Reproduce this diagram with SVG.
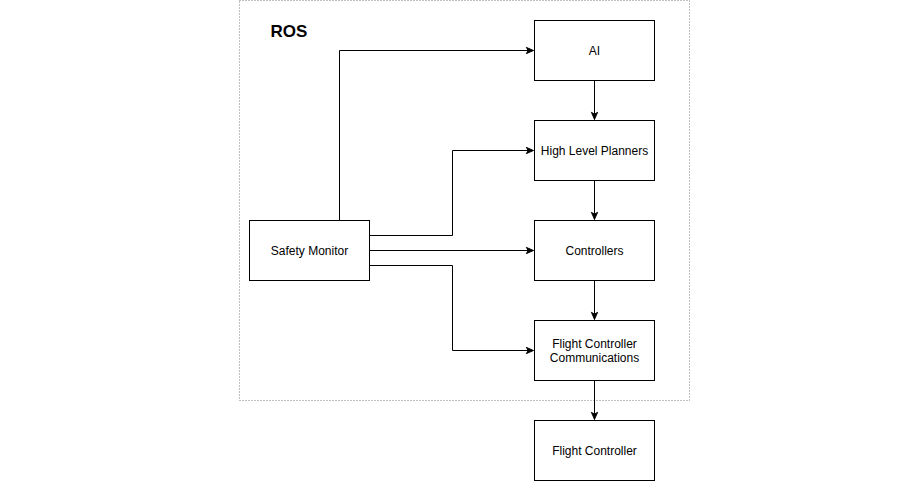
<svg xmlns="http://www.w3.org/2000/svg" width="911" height="481" viewBox="0 0 911 481">
<style>
.box{fill:#fff;stroke:#000;stroke-width:1}
.lbl{font-family:"Liberation Sans",Arial,sans-serif;font-size:12px;fill:#000;text-anchor:middle}
.edge{fill:none;stroke:#000;stroke-width:1}
</style>
<defs>
<marker id="arr" viewBox="0 0 10 10" refX="9" refY="5" markerWidth="9" markerHeight="9" markerUnits="userSpaceOnUse" orient="auto">
<path d="M1,1.5 L9,5 L1,8.5 L3,5 Z" fill="#000" stroke="#000" stroke-width="1"/>
</marker>
</defs>
<rect width="911" height="481" fill="#fff"/>
<g id="ros">
<rect x="239.5" y="0.5" width="450" height="400" fill="none" stroke="#808080" stroke-dasharray="1 2"/>
<text x="289" y="37" font-family="'Liberation Sans',Arial,sans-serif" font-size="17" font-weight="bold" text-anchor="middle">ROS</text>
</g>
<g id="connectors">
<path class="edge" d="M339.5,220.5 V50.5 H533.5" marker-end="url(#arr)"/>
<path class="edge" d="M369.5,235.5 H452.5 V150.5 H533.5" marker-end="url(#arr)"/>
<path class="edge" d="M369.5,250.5 H533.5" marker-end="url(#arr)"/>
<path class="edge" d="M369.5,265.5 H452.5 V350.5 H533.5" marker-end="url(#arr)"/>
<path class="edge" d="M594.5,80.5 V119.5" marker-end="url(#arr)"/>
<path class="edge" d="M594.5,180.5 V219.5" marker-end="url(#arr)"/>
<path class="edge" d="M594.5,280.5 V319.5" marker-end="url(#arr)"/>
<path class="edge" d="M594.5,380.5 V419.5" marker-end="url(#arr)"/>
</g>
<g id="ai"><rect class="box" x="534.5" y="20.5" width="120" height="60"/><text class="lbl" x="594.5" y="55">AI</text></g>
<g id="hlp"><rect class="box" x="534.5" y="120.5" width="120" height="60"/><text class="lbl" x="594.5" y="155">High Level Planners</text></g>
<g id="controllers"><rect class="box" x="534.5" y="220.5" width="120" height="60"/><text class="lbl" x="594.5" y="255">Controllers</text></g>
<g id="fcc"><rect class="box" x="534.5" y="320.5" width="120" height="60"/><text class="lbl" x="594.5" y="348">Flight Controller</text><text class="lbl" x="594.5" y="362">Communications</text></g>
<g id="fc"><rect class="box" x="534.5" y="420.5" width="120" height="60"/><text class="lbl" x="594.5" y="455">Flight Controller</text></g>
<g id="safety"><rect class="box" x="249.5" y="220.5" width="120" height="60"/><text class="lbl" x="309.5" y="255">Safety Monitor</text></g>
</svg>
